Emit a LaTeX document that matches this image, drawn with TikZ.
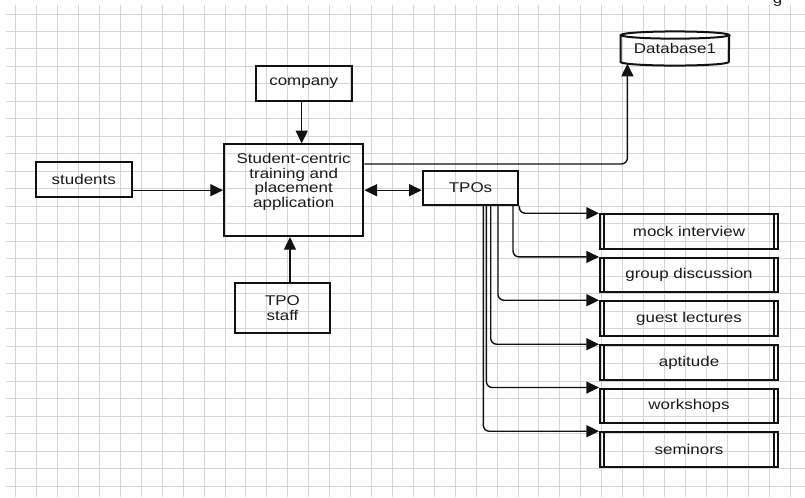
\documentclass[tikz,border=0pt]{standalone}
\usepackage{fontspec}
\setmainfont{Liberation Sans}[FakeStretch=1.2]
\usetikzlibrary{arrows.meta,calc}
\definecolor{grd}{HTML}{D6D6D6}
\definecolor{ink}{HTML}{111111}
\definecolor{txt}{HTML}{1A1A1A}

\begin{document}
\begin{tikzpicture}[
  x=0.75pt, y=-0.75pt,
  >={Triangle[length=9.5pt,width=9pt]},
  ent/.style={draw=ink, line width=1.5pt, inner sep=0pt, align=center, text=txt, font=\fontsize{10.6}{11.6}\selectfont},
  proc/.style={ent, minimum width=133.5pt, minimum height=25.9pt},
  arr/.style={->, line width=1.05pt, color=ink, rounded corners=4.5pt},
  gridline/.style={draw=grd, line width=0.7pt},
]

\useasboundingbox (0,0) rectangle (805,497);
\fill[white] (0,0) rectangle (805,497);

% grid
\foreach \i in {0,...,37}
  \draw[gridline] ({15.7+20.93*\i},5) -- ({15.7+20.93*\i},497);
\foreach \j in {0,...,27}
  \draw[gridline] (6,{14+17.48*\j}) -- (805,{14+17.48*\j});

\node[font=\fontsize{10.6}{11.6}\selectfont, text=txt, anchor=base] (pg) at (777.5,3.5) {g};

\node[ent, minimum width=72pt, minimum height=26.25pt] (company) at (303.7,83.2) {company};
\node[ent, minimum width=71.8pt, minimum height=26.25pt] (students) at (83.8,179.2) {students};
\node[ent, minimum width=104.5pt, minimum height=68.8pt] (main) at (293.7,190.2) {};
\node[align=center, text=txt, font=\fontsize{10.6}{10.8}\selectfont] (maintxt) at (293.7,181.8) {Student-centric\\training and\\placement\\application};
\node[ent, minimum width=71.25pt, minimum height=37.5pt] (staff) at (282.5,308.3) {TPO\\staff};
\node[ent, minimum width=71.7pt, minimum height=25.7pt] (TPOs) at (470.5,187.8) {TPOs};

% database cylinder
\node[text=txt, font=\fontsize{10.6}{11.6}\selectfont, inner sep=0pt, minimum width=81pt, minimum height=19.8pt] (db) at (675,48.5) {Database1};
\draw[ink, line width=1.5pt] (db.north) ellipse [x radius=40.5pt, y radius=2.7pt];
\draw[ink, line width=1.5pt] (db.north west) -- (db.south west)
  arc[start angle=180, end angle=360, x radius=40.5pt, y radius=2.7pt] -- (db.north east);

% activities
\foreach \nm/\txt/\yy in {mock/mock interview/231.5, grp/group discussion/275.2, guest/guest lectures/318.5, apt/aptitude/362.5, wks/workshops/405.8, sem/seminors/449.5} {
  \node[proc] (\nm) at (689,\yy) {\txt};
  \draw[ink, line width=1.5pt] ([xshift=4pt]\nm.north west) -- ([xshift=4pt]\nm.south west)
    ([xshift=-4pt]\nm.north east) -- ([xshift=-4pt]\nm.south east);
}

\draw[arr] ([xshift=-1.5pt]company.south) -- ([xshift=-1.5pt]company.south |- main.north);
\draw[arr] (students.east |- main.west) -- (main.west);
\draw[arr] ([xshift=5.6pt]staff.north) -- ([xshift=5.6pt]staff.north |- main.south);
\draw[arr, <->] (main.east) -- (main.east -| TPOs.west);
\draw[arr] ($(main.north east)!0.22!(main.south east)$) -| ([xshift=5pt,yshift=-1.3pt]db.south west);

\draw[arr] (TPOs.south east) |- (mock.north west);
\foreach \nm/\dx in {grp/68.5pt, guest/57.2pt, apt/51.75pt, wks/48.5pt, sem/46.2pt}
  \draw[arr] ([xshift=\dx]TPOs.south west) |- (\nm.north west);

\end{tikzpicture}
\end{document}
